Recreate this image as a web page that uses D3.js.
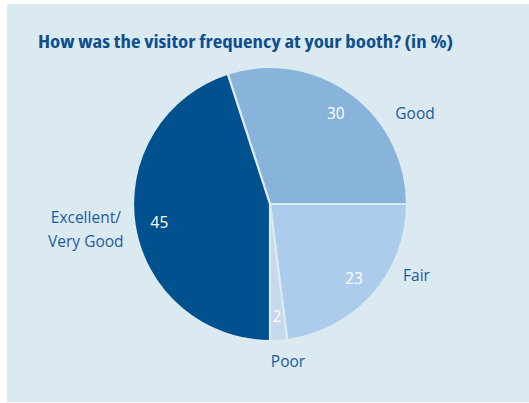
<!DOCTYPE html>
<html><head><meta charset="utf-8">
<script src="https://cdn.jsdelivr.net/npm/d3@7"></script>
<style>
html,body{margin:0;padding:0;background:#fff;}
svg{display:block;}
text{font-family:"Open Sans","Noto Sans",sans-serif;font-stretch:85%;}
text.lbl{font-stretch:92%;}
</style></head>
<body>
<svg id="c" width="529" height="403"></svg>
<script>
const title = "How was the visitor frequency at your booth? (in %)";
const categories = ["Good", "Fair", "Poor", "Excellent/\nVery Good"];
const values = [30, 23, 2, 45];
const colors = ["#88b3da", "#abcdeb", "#c6d9eb", "#00518d"];
// outer label placement (angle in degrees, radius)
const labelAngles = [58, 116, 173.5, 262];
const labelRadii = [171, 163, 159, 186];

const svg = d3.select("#c");
const W = 529, H = 403;
svg.append("rect").attr("x", 7).attr("y", 4).attr("width", W - 7).attr("height", H - 5).attr("fill", "#dbe9f1");

const tt = svg.append("text").attr("x", 38).attr("y", 48)
  .attr("fill", "#0f4f8b").attr("font-weight", "bold").attr("font-size", 17)
  .text(title);
const tw = tt.node().getComputedTextLength();
if (Math.abs(tw - 415) > 8) tt.attr("textLength", 415).attr("lengthAdjust", "spacingAndGlyphs");

const cx = 270, cy = 204, R = 137;
const g = svg.append("g").attr("transform", `translate(${cx},${cy})`);

const pie = d3.pie().sort(null).value(d => d)
  .startAngle(-18 * Math.PI / 180).endAngle((360 - 18) * Math.PI / 180);
const arcs = pie(values);
const arc = d3.arc().innerRadius(0).outerRadius(R);
const labelArc = d3.arc().innerRadius(112).outerRadius(112);

g.selectAll("path.slice").data(arcs).enter().append("path")
  .attr("class", "slice")
  .attr("d", arc)
  .attr("fill", (d, i) => colors[i])
  .attr("stroke", "#dbe9f1").attr("stroke-width", 2.2).attr("stroke-linejoin", "round");

g.selectAll("text.val").data(arcs).enter().append("text")
  .attr("class", "val lbl")
  .attr("transform", d => `translate(${labelArc.centroid(d)})`)
  .attr("text-anchor", "middle").attr("dominant-baseline", "central")
  .attr("fill", "#ffffff").attr("font-size", 15.5)
  .text(d => d.data);

categories.forEach((c, i) => {
  const a = labelAngles[i] * Math.PI / 180, r = labelRadii[i];
  const x = Math.sin(a) * r, y = -Math.cos(a) * r;
  const lines = c.split("\n");
  const t = g.append("text").attr("class", "lbl").attr("text-anchor", "middle")
    .attr("fill", "#1b5c98").attr("font-size", 15.5);
  const lh = 24;
  lines.forEach((ln, j) => {
    t.append("tspan").attr("x", x)
      .attr("y", y + (j - (lines.length - 1) / 2) * lh)
      .attr("dy", "0.35em").text(ln);
  });
});
</script>
</body></html>
